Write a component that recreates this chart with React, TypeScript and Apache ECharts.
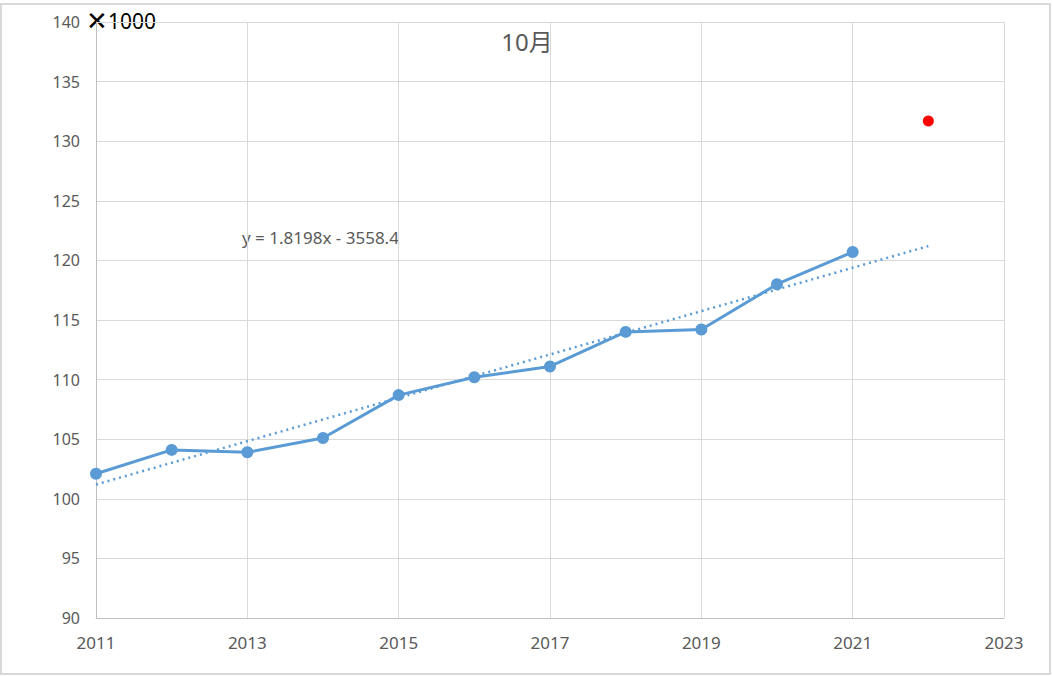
import React, { useEffect, useRef } from "react";
import * as echarts from "echarts";

const years = ["2011","2012","2013","2014","2015","2016","2017","2018","2019","2020","2021","2022","2023"];
const actual = [102.1, 104.1, 103.9, 105.1, 108.7, 110.2, 111.1, 114.0, 114.2, 118.0, 120.7, null, null];
const forecast = [null, null, null, null, null, null, null, null, null, null, null, 131.7, null];
const trend = [101.2, null, null, null, null, null, null, null, null, null, null, 121.2, null];
const title = "10月";
const unitMark = "✕";
const unitLabel = "1000";
const equation = "y = 1.8198x - 3558.4";

export default function App() {
  const ref = useRef<HTMLDivElement>(null);
  useEffect(() => {
    if (!ref.current) return;
    const chart = echarts.init(ref.current, undefined, { renderer: "svg" });
    const font = "'Noto Sans', 'Noto Sans CJK JP', sans-serif";
    chart.setOption({
      animation: false,
      backgroundColor: "#ffffff",
      title: {
        text: title,
        left: 522,
        top: 24,
        textAlign: "center",
        textStyle: { fontSize: 24, fontWeight: "normal", color: "#595959", fontFamily: font },
      },
      graphic: [
        {
          type: "rect",
          shape: { x: 1, y: 4, width: 1049, height: 670 },
          style: { fill: "none", stroke: "#d9d9d9", lineWidth: 2 },
          silent: true,
        },
        {
          type: "text",
          x: 86,
          y: 8,
          style: { text: unitMark, fontSize: 26, fill: "#000000", fontFamily: "'DejaVu Sans', sans-serif" },
        },
        {
          type: "text",
          x: 108,
          y: 10,
          style: { text: unitLabel, fontSize: 21, fill: "#000000", fontFamily: font },
        },
        {
          type: "text",
          x: 242,
          y: 229,
          style: { text: equation, fontSize: 17, fill: "#595959", fontFamily: font },
        },
      ],
      grid: { left: 96, right: 49, top: 22, bottom: 58, containLabel: false },
      xAxis: {
        type: "category",
        data: years,
        boundaryGap: false,
        axisLine: { lineStyle: { color: "#bfbfbf", width: 1 } },
        axisTick: { show: false },
        axisLabel: { interval: 1, fontSize: 17, color: "#595959", margin: 16, fontFamily: font },
        splitLine: { show: true, interval: 1, lineStyle: { color: "#d9d9d9", width: 1 } },
      },
      yAxis: {
        type: "value",
        min: 90,
        max: 140,
        interval: 5,
        axisLine: { show: true, lineStyle: { color: "#bfbfbf", width: 1 } },
        axisTick: { show: false },
        axisLabel: { fontSize: 16, color: "#595959", margin: 16, fontFamily: font },
        splitLine: { show: true, lineStyle: { color: "#d9d9d9", width: 1 } },
      },
      series: [
        {
          type: "line",
          data: trend,
          connectNulls: true,
          symbol: "none",
          lineStyle: { color: "#5b9bd5", width: 2.5, type: [2, 4] },
          z: 2,
        },
        {
          type: "line",
          data: actual,
          symbol: "circle",
          symbolSize: 12,
          itemStyle: { color: "#5b9bd5" },
          lineStyle: { color: "#5b9bd5", width: 3 },
          z: 3,
        },
        {
          type: "line",
          data: forecast,
          symbol: "circle",
          symbolSize: 11,
          itemStyle: { color: "#ff0000" },
          lineStyle: { width: 0 },
          z: 4,
        },
      ],
    });
    return () => chart.dispose();
  }, []);
  return <div ref={ref} style={{ width: 1053, height: 676, position: "absolute", left: 0, top: 0 }} />;
}
